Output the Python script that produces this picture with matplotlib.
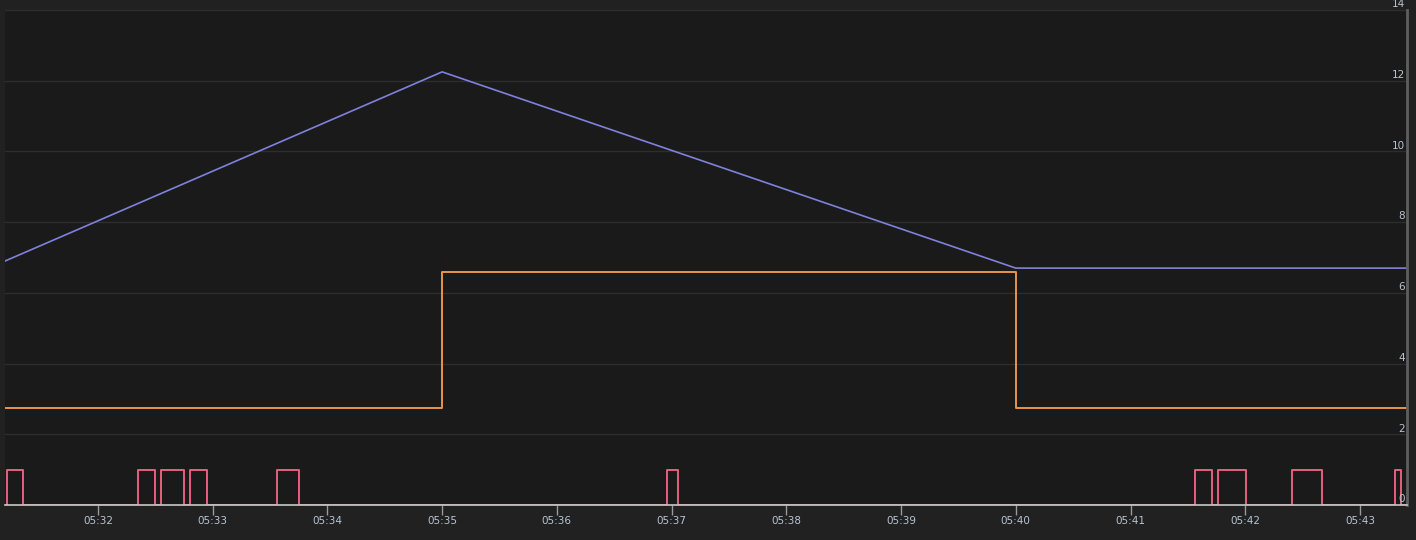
import matplotlib
matplotlib.use("Agg")
from matplotlib import pyplot as plt
import matplotlib.dates as mdates
import matplotlib.transforms as mtransforms
import pandas as pd

day = pd.Timestamp("2024-01-01 05:31:00")

# purple line: (seconds after 05:31:00, value)
purple_t = [11.4, 240.0, 540.0, 744.6]
purple_v = [6.9, 12.25, 6.7, 6.7]

# orange step
orange_t = [11.4, 240.0, 540.0, 744.6]
orange_v = [2.75, 6.6, 2.75, 2.75]

# pink pulses, change points (seconds after 05:31:00) and level after each
pink_t = [11.4, 12.3, 21, 81, 90, 93, 105, 108, 117, 153.5, 165, 357.5, 363.5,
          633.5, 642.5, 645.5, 660.5, 684.5, 700, 738.5, 741.5, 744.6]
pink_v = [0, 1, 0, 1, 0, 1, 0, 1, 0, 1, 0, 1, 0,
          1, 0, 1, 0, 1, 0, 1, 0, 0]

y_ticks = [0, 2, 4, 6, 8, 10, 12, 14]
x_ticks = ["05:32", "05:33", "05:34", "05:35", "05:36", "05:37",
           "05:38", "05:39", "05:40", "05:41", "05:42", "05:43"]


def to_time(secs):
    return [day + pd.Timedelta(seconds=s) for s in secs]


fig = plt.figure(figsize=(14.16, 5.4), dpi=100, facecolor="#212121")
ax = fig.add_axes([5 / 1416, 35 / 540, 1402 / 1416, 495 / 540])
ax.set_facecolor("#1a1a1a")

ax.plot(to_time(purple_t), purple_v, color="#7e82dc", lw=1.2)
ax.step(to_time(orange_t), orange_v, where="post", color="#e8954a", lw=1.4)
ax.step(to_time(pink_t), pink_v, where="post", color="#e5607e", lw=1.4)

ax.set_xlim(day + pd.Timedelta(seconds=11.4), day + pd.Timedelta(seconds=744.6))
ax.set_ylim(0, 14)

ax.set_yticks(y_ticks)
ax.yaxis.grid(True, color="#2e2e2e", lw=1)
ax.tick_params(axis="y", length=0, labelleft=False, labelright=False)
trans = mtransforms.blended_transform_factory(ax.transAxes, ax.transData)
for v in y_ticks:
    ax.text(0.9985, v + 0.02, str(v), transform=trans, ha="right", va="bottom",
            fontsize=7.5, color="#b8c4d0")

ax.set_xticks([pd.Timestamp("2024-01-01 " + s) for s in x_ticks])
ax.xaxis.set_major_formatter(mdates.DateFormatter("%H:%M"))
ax.tick_params(axis="x", length=7, width=1, color="#9a9a9a", labelsize=7.5,
               labelcolor="#b8c4d0", pad=1)

for side in ["top", "left"]:
    ax.spines[side].set_visible(False)
ax.spines["bottom"].set_color("#c8c8c8")
ax.spines["bottom"].set_linewidth(1.2)
ax.spines["right"].set_color("#5e5e5e")
ax.spines["right"].set_linewidth(2)

fig.savefig("out.png", dpi=100, facecolor=fig.get_facecolor())
